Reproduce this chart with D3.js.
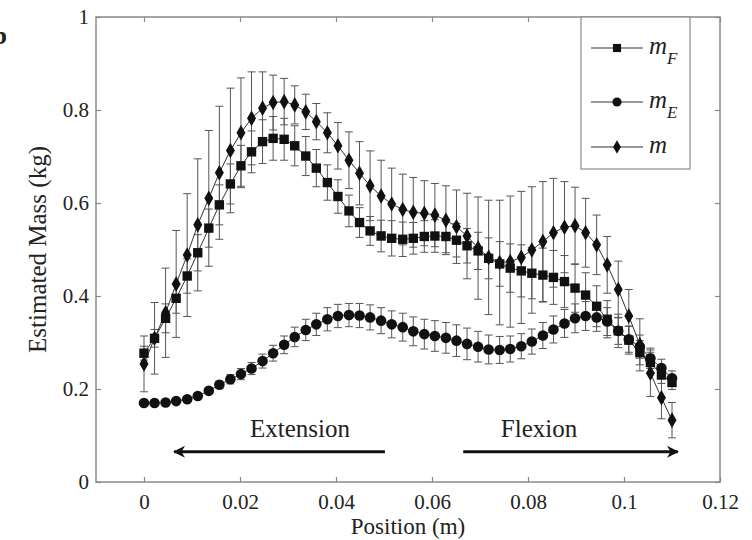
<!DOCTYPE html>
<html>
<head>
<meta charset="utf-8">
<script src="https://cdn.jsdelivr.net/npm/d3@7"></script>
<style>
  body { margin: 0; background: #fff; }
  svg { display: block; }
  text { font-family: "Liberation Serif", "Times New Roman", serif; fill: #222; }
</style>
</head>
<body>
<svg id="chart" width="752" height="540"></svg>
<script>
// positions along the reach (m)
var xPos = [0.0000,0.0022,0.0045,0.0067,0.0090,0.0112,0.0135,0.0157,0.0180,0.0202,
            0.0224,0.0247,0.0269,0.0292,0.0314,0.0337,0.0359,0.0382,0.0404,0.0427,
            0.0449,0.0471,0.0494,0.0516,0.0539,0.0561,0.0584,0.0606,0.0629,0.0651,
            0.0673,0.0696,0.0718,0.0741,0.0763,0.0786,0.0808,0.0831,0.0853,0.0876,
            0.0898,0.0920,0.0943,0.0965,0.0988,0.1010,0.1033,0.1055,0.1078,0.1100];

// m_F (squares)
var mF = [0.277,0.309,0.352,0.395,0.443,0.493,0.546,0.596,0.641,0.680,
          0.710,0.732,0.739,0.737,0.723,0.701,0.675,0.644,0.614,0.583,
          0.558,0.540,0.529,0.524,0.522,0.524,0.528,0.529,0.528,0.520,
          0.508,0.497,0.481,0.469,0.460,0.454,0.449,0.445,0.440,0.431,
          0.417,0.402,0.378,0.350,0.325,0.305,0.278,0.257,0.230,0.214];
var sdF = [0.015,0.019,0.031,0.032,0.037,0.039,0.041,0.043,0.043,0.044,
           0.045,0.047,0.047,0.045,0.043,0.042,0.040,0.038,0.036,0.034,
           0.032,0.031,0.034,0.038,0.037,0.034,0.034,0.035,0.035,0.036,
           0.037,0.040,0.044,0.048,0.052,0.056,0.055,0.058,0.058,0.056,
           0.052,0.048,0.044,0.040,0.036,0.030,0.026,0.022,0.018,0.015];

// m_E (circles)
var mE = [0.170,0.170,0.171,0.174,0.178,0.185,0.196,0.209,0.221,0.232,
          0.244,0.260,0.277,0.295,0.312,0.327,0.339,0.350,0.357,0.359,
          0.358,0.354,0.347,0.339,0.333,0.324,0.318,0.314,0.310,0.304,
          0.297,0.291,0.285,0.284,0.286,0.292,0.302,0.315,0.328,0.341,
          0.352,0.357,0.354,0.345,0.325,0.307,0.291,0.266,0.245,0.223];
var sdE = [0.002,0.002,0.003,0.003,0.004,0.005,0.006,0.008,0.010,0.012,
           0.013,0.015,0.017,0.019,0.021,0.023,0.024,0.025,0.025,0.025,
           0.026,0.027,0.028,0.029,0.030,0.031,0.032,0.033,0.033,0.034,
           0.034,0.033,0.031,0.029,0.028,0.027,0.027,0.028,0.029,0.030,
           0.031,0.031,0.030,0.030,0.029,0.028,0.025,0.022,0.019,0.016];

// m (diamonds)
var mTot = [0.254,0.309,0.364,0.426,0.488,0.553,0.610,0.665,0.713,0.751,
            0.782,0.804,0.816,0.818,0.811,0.796,0.775,0.751,0.723,0.692,
            0.664,0.637,0.615,0.598,0.586,0.580,0.578,0.574,0.563,0.549,
            0.529,0.503,0.483,0.472,0.474,0.483,0.499,0.517,0.536,0.548,
            0.551,0.536,0.510,0.467,0.414,0.357,0.295,0.234,0.181,0.133];
var sdTot = [0.060,0.077,0.096,0.115,0.132,0.142,0.146,0.143,0.134,0.118,
             0.100,0.078,0.059,0.050,0.041,0.038,0.039,0.043,0.050,0.061,
             0.068,0.075,0.077,0.077,0.076,0.075,0.070,0.068,0.074,0.079,
             0.092,0.110,0.123,0.134,0.141,0.142,0.136,0.129,0.117,0.098,
             0.083,0.074,0.064,0.061,0.061,0.057,0.056,0.050,0.045,0.038];

var xTicks = [0, 0.02, 0.04, 0.06, 0.08, 0.1, 0.12];
var yTicks = [0, 0.2, 0.4, 0.6, 0.8, 1];

// direction arrows: [label, from x, to x, label x]
var arrows = [["Extension", 0.0502, 0.0063, 0.0325],
              ["Flexion", 0.0665, 0.1112, 0.0823]];
var arrowY = 0.065, arrowLabelY = 0.097;

var svg = d3.select("#chart");
var margin = {top: 17, right: 32, bottom: 58, left: 96};
var W = 752, H = 540;

var x = d3.scaleLinear().domain([-0.01, 0.12]).range([margin.left, W - margin.right]);
var y = d3.scaleLinear().domain([0, 1]).range([H - margin.bottom, margin.top]);

var axisCol = "#8a8a8a";

// partial panel letter at the clipped left edge
svg.append("text").attr("x", 7).attr("y", 44).attr("text-anchor", "end")
  .style("font-size", "26px").style("font-weight", "bold").text("b");

// axes (MATLAB style: box, inward ticks)
function styleAxis(g) {
  g.select(".domain").remove();
  g.selectAll(".tick line").attr("stroke", axisCol).attr("stroke-width", 1.2);
  g.selectAll(".tick text").style("font-size", "21px").style("font-family", "Liberation Serif").attr("fill", "#222");
}
var fmt = function(d) { return d3.format("")(+d.toFixed(2)); };

svg.append("g").attr("transform", "translate(0," + y(0) + ")")
  .call(d3.axisBottom(x).tickValues(xTicks).tickFormat(fmt).tickSizeInner(-5).tickSizeOuter(0).tickPadding(12))
  .call(styleAxis);
svg.append("g").attr("transform", "translate(0," + y(1) + ")")
  .call(d3.axisTop(x).tickValues(xTicks).tickFormat("").tickSizeInner(-5).tickSizeOuter(0))
  .call(styleAxis);
svg.append("g").attr("transform", "translate(" + x(-0.01) + ",0)")
  .call(d3.axisLeft(y).tickValues(yTicks).tickFormat(fmt).tickSizeInner(-5).tickSizeOuter(0).tickPadding(7))
  .call(styleAxis);
svg.append("g").attr("transform", "translate(" + x(0.12) + ",0)")
  .call(d3.axisRight(y).tickValues(yTicks).tickFormat("").tickSizeInner(-5).tickSizeOuter(0))
  .call(styleAxis);

svg.append("rect")
  .attr("x", x(-0.01)).attr("y", y(1))
  .attr("width", x(0.12) - x(-0.01)).attr("height", y(0) - y(1))
  .attr("fill", "none").attr("stroke", axisCol).attr("stroke-width", 1.5);

// axis labels
svg.append("text").attr("x", (x(-0.01) + x(0.12)) / 2).attr("y", 534)
  .attr("text-anchor", "middle").style("font-size", "23px").text("Position (m)");
svg.append("text")
  .attr("transform", "translate(46," + ((y(0) + y(1)) / 2) + ") rotate(-90)")
  .attr("text-anchor", "middle").style("font-size", "25px").text("Estimated Mass (kg)");

// series
var series = [
  {name: "F", vals: mF, sd: sdF, sym: d3.symbolSquare, size: 88},
  {name: "E", vals: mE, sd: sdE, sym: d3.symbolCircle, size: 88},
  {name: "",  vals: mTot, sd: sdTot, sym: d3.symbolDiamond, size: 70}
];

var cap = 4;
series.forEach(function(s) {
  var g = svg.append("g");
  var eb = g.selectAll(".eb").data(xPos).enter().append("g")
    .attr("stroke", "#555").attr("stroke-width", 1);
  eb.append("line")
    .attr("x1", function(d) { return x(d); }).attr("x2", function(d) { return x(d); })
    .attr("y1", function(d, i) { return y(s.vals[i] - s.sd[i]); })
    .attr("y2", function(d, i) { return y(s.vals[i] + s.sd[i]); });
  eb.append("line")
    .attr("x1", function(d) { return x(d) - cap; }).attr("x2", function(d) { return x(d) + cap; })
    .attr("y1", function(d, i) { return y(s.vals[i] + s.sd[i]); })
    .attr("y2", function(d, i) { return y(s.vals[i] + s.sd[i]); });
  eb.append("line")
    .attr("x1", function(d) { return x(d) - cap; }).attr("x2", function(d) { return x(d) + cap; })
    .attr("y1", function(d, i) { return y(s.vals[i] - s.sd[i]); })
    .attr("y2", function(d, i) { return y(s.vals[i] - s.sd[i]); });
});

series.forEach(function(s) {
  svg.append("path")
    .datum(xPos)
    .attr("fill", "none").attr("stroke", "#333").attr("stroke-width", 1)
    .attr("d", d3.line()
      .x(function(d) { return x(d); })
      .y(function(d, i) { return y(s.vals[i]); }));
});

series.forEach(function(s) {
  svg.append("g").selectAll("path").data(xPos).enter().append("path")
    .attr("transform", function(d, i) { return "translate(" + x(d) + "," + y(s.vals[i]) + ")"; })
    .attr("d", d3.symbol().type(s.sym).size(s.size))
    .attr("fill", "#111");
});

// direction arrows
var defs = svg.append("defs");
defs.append("marker").attr("id", "head").attr("viewBox", "0 0 10 10")
  .attr("refX", 9).attr("refY", 5).attr("markerWidth", 5).attr("markerHeight", 4)
  .attr("markerUnits", "strokeWidth").attr("orient", "auto")
  .append("path").attr("d", "M0,0 L10,5 L0,10 L3,5 Z").attr("fill", "#111");

arrows.forEach(function(a) {
  svg.append("line")
    .attr("x1", x(a[1])).attr("x2", x(a[2]))
    .attr("y1", y(arrowY)).attr("y2", y(arrowY))
    .attr("stroke", "#111").attr("stroke-width", 3)
    .attr("marker-end", "url(#head)");
  svg.append("text").attr("x", x(a[3])).attr("y", y(arrowLabelY))
    .attr("text-anchor", "middle").style("font-size", "25px").text(a[0]);
});

// legend
var lg = svg.append("g");
lg.append("rect").attr("x", 581).attr("y", y(1)).attr("width", 109).attr("height", 152)
  .attr("fill", "#fff").attr("stroke", axisCol).attr("stroke-width", 1.2);
var legY = [48, 102, 147];
series.forEach(function(s, i) {
  var ly = legY[i];
  lg.append("line").attr("x1", 591).attr("x2", 643).attr("y1", ly).attr("y2", ly)
    .attr("stroke", "#333").attr("stroke-width", 1);
  lg.append("path").attr("transform", "translate(617," + ly + ")")
    .attr("d", d3.symbol().type(s.sym).size(s.size * 0.75)).attr("fill", "#111");
  var t = lg.append("text").attr("x", 649).attr("y", ly + 6)
    .style("font-size", "25px").style("font-style", "italic");
  t.append("tspan").text("m");
  if (s.name) t.append("tspan").attr("dy", 10).style("font-size", "17px").text(s.name);
});
</script>
</body>
</html>
